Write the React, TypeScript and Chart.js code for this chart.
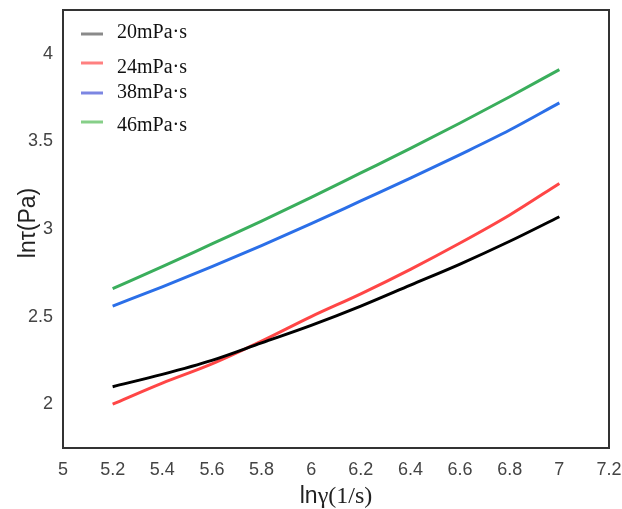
import React, { useEffect, useRef } from 'react';
import { Chart, registerables } from 'chart.js';

Chart.register(...registerables);

// ---- data ----
const xValues = [5.2, 5.4, 5.6, 5.8, 6.0, 6.2, 6.4, 6.6, 6.8, 7.0];
const series20 = [2.1, 2.17, 2.25, 2.35, 2.45, 2.56, 2.68, 2.8, 2.93, 3.07];
const series24 = [2.0, 2.12, 2.23, 2.36, 2.5, 2.63, 2.77, 2.92, 3.08, 3.26];
const series38 = [2.56, 2.67, 2.785, 2.905, 3.03, 3.16, 3.29, 3.425, 3.565, 3.72];
const series46 = [2.66, 2.785, 2.915, 3.045, 3.18, 3.32, 3.46, 3.605, 3.755, 3.91];
const seriesNames = ['20mPa·s', '24mPa·s', '38mPa·s', '46mPa·s'];
const xTicks = [5, 5.2, 5.4, 5.6, 5.8, 6, 6.2, 6.4, 6.6, 6.8, 7, 7.2];
const yTicks = [2, 2.5, 3, 3.5, 4];
const xTitleSans = 'ln';
const xTitleSerif = 'γ(1/s)';
const yTitle = 'lnτ(Pa)';

const lineColors = ['#000000', '#ff4646', '#2b6fe8', '#3aae5c'];
const legendColors = ['#8a8a8a', '#ff8080', '#7c86e2', '#86cf88'];

const decorPlugin = {
  id: 'decor',
  afterDraw(chart: any) {
    const { ctx, chartArea } = chart;
    const { left, top, right, bottom } = chartArea;
    ctx.save();
    // frame
    ctx.strokeStyle = '#333333';
    ctx.lineWidth = 2;
    ctx.strokeRect(left, top, right - left, bottom - top);

    // legend
    const lineY = [24, 53, 83, 112];
    const textY = [23, 58, 83, 116];
    ctx.lineWidth = 3;
    ctx.font = '20px "Liberation Serif", "Times New Roman", serif';
    ctx.textBaseline = 'middle';
    ctx.textAlign = 'left';
    seriesNames.forEach((name, i) => {
      ctx.strokeStyle = legendColors[i];
      ctx.beginPath();
      ctx.moveTo(left + 18, top + lineY[i]);
      ctx.lineTo(left + 40, top + lineY[i]);
      ctx.stroke();
      ctx.fillStyle = '#111111';
      ctx.fillText(name, left + 54, top + textY[i]);
    });

    // x title (mixed fonts)
    ctx.fillStyle = '#222222';
    const sansFont = '23px "Liberation Sans", Arial, sans-serif';
    const serifFont = '24px "Liberation Serif", "Times New Roman", serif';
    ctx.font = sansFont;
    const w1 = ctx.measureText(xTitleSans).width;
    ctx.font = serifFont;
    const w2 = ctx.measureText(xTitleSerif).width;
    const cx = (left + right) / 2;
    const x0 = cx - (w1 + w2) / 2;
    const ty = 497;
    ctx.textBaseline = 'middle';
    ctx.font = sansFont;
    ctx.fillText(xTitleSans, x0, ty);
    ctx.font = serifFont;
    ctx.fillText(xTitleSerif, x0 + w1, ty);

    // y title
    ctx.translate(29, (top + bottom) / 2 - 6);
    ctx.rotate(-Math.PI / 2);
    ctx.textAlign = 'center';
    ctx.font = '23px "Liberation Sans", Arial, sans-serif';
    ctx.fillText(yTitle, 0, 0);
    ctx.restore();
  },
};

export default function App() {
  const ref = useRef<HTMLCanvasElement>(null);

  useEffect(() => {
    if (!ref.current) return;
    const all = [series20, series24, series38, series46];
    const chart = new Chart(ref.current, {
      type: 'line',
      data: {
        datasets: all.map((s, i) => ({
          label: seriesNames[i],
          data: s.map((y, j) => ({ x: xValues[j], y })),
          borderColor: lineColors[i],
          backgroundColor: lineColors[i],
          borderWidth: 3,
          pointRadius: 0,
          cubicInterpolationMode: 'monotone' as const,
          fill: false,
        })),
      },
      options: {
        responsive: false,
        animation: false,
        layout: { padding: 0 },
        plugins: {
          legend: { display: false },
          tooltip: { enabled: false },
        },
        scales: {
          x: {
            type: 'linear',
            min: 5,
            max: 7.2,
            grid: { display: false },
            border: { display: false },
            afterBuildTicks: (scale: any) => {
              scale.ticks = xTicks.map((v) => ({ value: v }));
            },
            afterFit: (scale: any) => {
              scale.height = 61;
              scale.paddingRight = 13;
              scale.paddingLeft = 0;
            },
            ticks: {
              autoSkip: false,
              maxRotation: 0,
              padding: 3,
              color: '#444444',
              font: { family: '"Liberation Sans", Arial, sans-serif', size: 18 },
              callback: (v: any) => String(Number(Number(v).toFixed(1))),
            },
          },
          y: {
            type: 'linear',
            min: 1.75,
            max: 4.25,
            grid: { display: false },
            border: { display: false },
            afterBuildTicks: (scale: any) => {
              scale.ticks = yTicks.map((v) => ({ value: v }));
            },
            afterFit: (scale: any) => {
              scale.width = 63;
              scale.paddingTop = 10;
              scale.paddingBottom = 0;
            },
            ticks: {
              autoSkip: false,
              padding: 2,
              color: '#444444',
              font: { family: '"Liberation Sans", Arial, sans-serif', size: 18 },
              callback: (v: any) => String(Number(Number(v).toFixed(1))),
            },
          },
        },
      },
      plugins: [decorPlugin],
    });
    return () => chart.destroy();
  }, []);

  return (
    <div style={{ position: 'absolute', left: 0, top: 0, width: 622, height: 509, background: '#ffffff' }}>
      <canvas ref={ref} width={622} height={509} />
    </div>
  );
}
